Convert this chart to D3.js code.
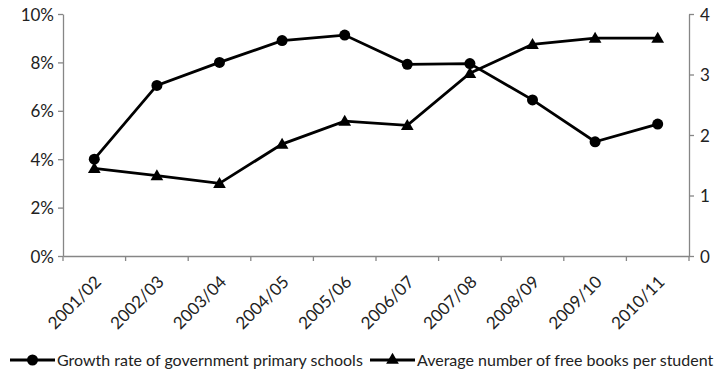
<!DOCTYPE html>
<html>
<head>
<meta charset="utf-8">
<script src="https://cdn.jsdelivr.net/npm/d3@7"></script>
<style>
  html, body { margin: 0; padding: 0; background: #fff; }
  svg { display: block; font-family: Lato, "Open Sans", sans-serif; }
</style>
</head>
<body>
<svg id="chart" width="721" height="369"></svg>
<script>
// School years shown along the horizontal axis
const years = ["2001/02", "2002/03", "2003/04", "2004/05", "2005/06",
               "2006/07", "2007/08", "2008/09", "2009/10", "2010/11"];
// Growth rate of government primary schools (%), left axis
const growthRate = [4.0, 7.05, 8.0, 8.9, 9.13, 7.92, 7.95, 6.45, 4.72, 5.45];
// Average number of free books per student, right axis
const freeBooks = [1.45, 1.33, 1.2, 1.85, 2.23, 2.16, 3.02, 3.5, 3.6, 3.6];
const leftTicks = [0, 2, 4, 6, 8, 10];
const rightTicks = [0, 1, 2, 3, 4];
const seriesNames = ["Growth rate of government primary schools",
                     "Average number of free books per student"];

const svg = d3.select("#chart");
const plot = { left: 63, right: 689, top: 14, bottom: 256 };
const axisColor = "#868686";
const lineColor = "#000";
const textColor = "#222";

const x = d3.scaleBand().domain(years).range([plot.left, plot.right]);
const yL = d3.scaleLinear().domain([0, 10]).range([plot.bottom, plot.top]);
const yR = d3.scaleLinear().domain([0, 4]).range([plot.bottom, plot.top]);
const cx = d => x(d) + x.bandwidth() / 2;

// Left axis
const gL = svg.append("g").attr("transform", `translate(${plot.left},0)`)
  .call(d3.axisLeft(yL).tickValues(leftTicks).tickSize(5).tickSizeOuter(0)
    .tickFormat(d => d + "%"));
// Right axis
const gR = svg.append("g").attr("transform", `translate(${plot.right},0)`)
  .call(d3.axisRight(yR).tickValues(rightTicks).tickSize(5).tickSizeOuter(0)
    .tickFormat(d3.format("d")));
// Bottom axis with ticks on category boundaries
const gB = svg.append("g").attr("transform", `translate(0,${plot.bottom})`)
  .call(d3.axisBottom(x).tickSize(0).tickFormat(""));
gB.selectAll(".tick").remove();
gB.selectAll(".bound").data(d3.range(years.length + 1)).enter().append("line")
  .attr("class", "bound")
  .attr("x1", i => plot.left + i * x.step()).attr("x2", i => plot.left + i * x.step())
  .attr("y1", 0).attr("y2", 5)
  .attr("stroke", axisColor).attr("stroke-width", 1.3);

[gL, gR, gB].forEach(g => {
  g.selectAll("path.domain").attr("stroke", axisColor).attr("stroke-width", 1.3);
  g.selectAll(".tick line").attr("stroke", axisColor).attr("stroke-width", 1.3);
  g.selectAll(".tick text").attr("fill", textColor).attr("font-size", 17)
    .attr("font-family", "Lato, sans-serif");
});
gL.selectAll(".tick text").attr("x", -9).attr("dy", "0.36em");
gR.selectAll(".tick text").attr("x", 11).attr("dy", "0.36em");

// Rotated category labels
svg.append("g").selectAll("text").data(years).enter().append("text")
  .attr("transform", d => `translate(${cx(d) + 8},${plot.bottom + 27}) rotate(-45)`)
  .attr("text-anchor", "end")
  .attr("font-size", 17)
  .attr("fill", textColor)
  .text(d => d);

// Series lines
const lineL = d3.line().x((d, i) => cx(years[i])).y(d => yL(d));
const lineR = d3.line().x((d, i) => cx(years[i])).y(d => yR(d));

svg.append("path").datum(freeBooks).attr("d", lineR)
  .attr("fill", "none").attr("stroke", lineColor).attr("stroke-width", 2.8);
svg.append("path").datum(growthRate).attr("d", lineL)
  .attr("fill", "none").attr("stroke", lineColor).attr("stroke-width", 2.8);

const tri = d3.symbol().type(d3.symbolTriangle).size(70);

svg.append("g").selectAll("path").data(freeBooks).enter().append("path")
  .attr("d", tri)
  .attr("transform", (d, i) => `translate(${cx(years[i])},${yR(d) + 1})`)
  .attr("fill", lineColor);
svg.append("g").selectAll("circle").data(growthRate).enter().append("circle")
  .attr("cx", (d, i) => cx(years[i])).attr("cy", d => yL(d)).attr("r", 5.5)
  .attr("fill", lineColor);

// Legend
const legY = 360;
const leg = svg.append("g");
const items = [
  { x: 10, name: seriesNames[0], mark: "circle" },
  { x: 370, name: seriesNames[1], mark: "triangle" }
];
items.forEach(it => {
  leg.append("line").attr("x1", it.x).attr("x2", it.x + 45)
    .attr("y1", legY).attr("y2", legY)
    .attr("stroke", lineColor).attr("stroke-width", 2.8);
  if (it.mark === "circle") {
    leg.append("circle").attr("cx", it.x + 22.5).attr("cy", legY).attr("r", 5.5).attr("fill", lineColor);
  } else {
    leg.append("path").attr("d", tri).attr("transform", `translate(${it.x + 22.5},${legY})`).attr("fill", lineColor);
  }
  leg.append("text").attr("x", it.x + 47).attr("y", legY).attr("dy", "0.36em")
    .attr("font-size", 16).attr("fill", textColor).text(it.name);
});
</script>
</body>
</html>
